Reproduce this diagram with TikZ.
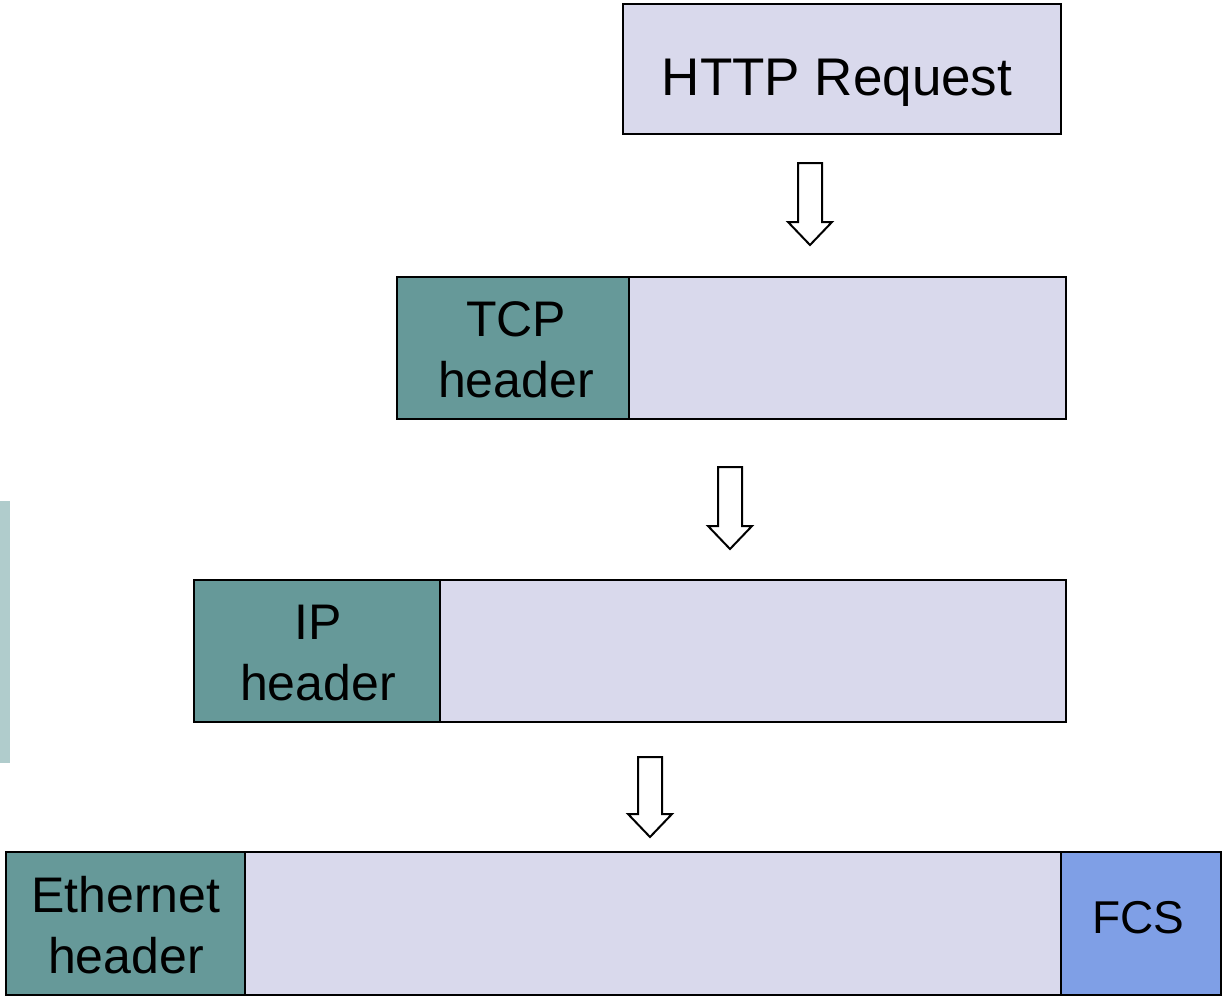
\documentclass[tikz,border=0pt]{standalone}
\usepackage{fontspec}
\setmainfont{Liberation Sans}
\definecolor{lav}{HTML}{D9D9EC}
\definecolor{teal}{HTML}{669999}
\definecolor{fcs}{HTML}{7F9FE6}
\definecolor{strip}{HTML}{B0CCCC}
\begin{document}
\begin{tikzpicture}[x=1pt,y=-1pt,
  box/.style={draw=black,line width=2pt,fill=lav},
  hdr/.style={draw=black,line width=2pt,fill=teal},
  fcsbox/.style={draw=black,line width=2pt,fill=fcs},
  lbl/.style={font=\fontsize{50}{61}\selectfont,align=center,text=black},
  blockarrow/.style={draw=black,line width=2pt,fill=white,line join=miter}]
\useasboundingbox (0,0) rectangle (1226,999);
\fill[strip] (0,501) rectangle (10,763);
% HTTP
\draw[box] (623,4) rectangle (1061,134);
\node[lbl,font=\fontsize{53}{61}\selectfont] (http) at (837,83) {HTTP Request};
% TCP
\draw[box] (397,277) rectangle (1066,419);
\draw[hdr] (397,277) rectangle (629,419);
\node[lbl] (tcp) at (516,350) {TCP\\header};
% IP
\draw[box] (194,580) rectangle (1066,722);
\draw[hdr] (194,580) rectangle (440,722);
\node[lbl] (ip) at (318,653) {IP\\header};
% Ethernet
\draw[box] (6,852) rectangle (1221,995);
\draw[hdr] (6,852) rectangle (245,995);
\draw[fcsbox] (1061,852) rectangle (1221,995);
\node[lbl] (eth) at (126,925) {Ethernet\\header};
\node[lbl,font=\fontsize{46}{58}\selectfont] (fcs) at (1138,918) {FCS};
% arrows
\foreach \cx/\ty/\by in {810/163/245, 730/467/549, 650/757/837}{
  \draw[blockarrow] (\cx-12,\ty) -- (\cx+12,\ty) -- (\cx+12,\by-23) -- (\cx+22,\by-23)
    -- (\cx,\by) -- (\cx-22,\by-23) -- (\cx-12,\by-23) -- cycle;
}
\end{tikzpicture}
\end{document}
